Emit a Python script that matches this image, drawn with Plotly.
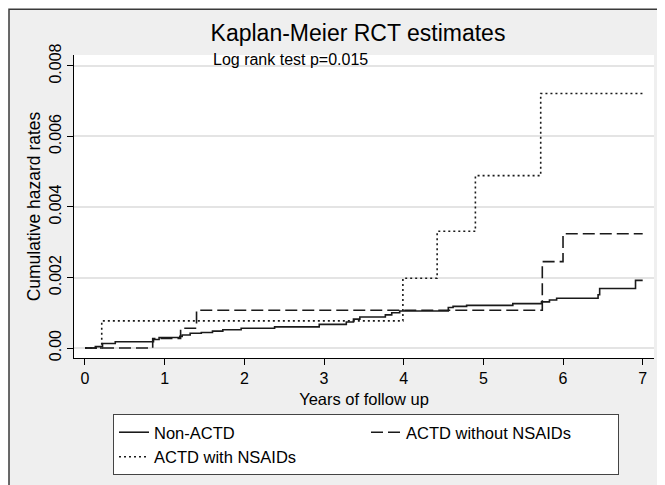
import plotly.graph_objects as go

# ---- data ----
non_actd_t = [0, 0.13, 0.22, 0.38, 0.86, 0.93, 1.19, 1.22, 1.32, 1.46, 1.60, 1.73, 1.96, 2.38,
              2.94, 3.28, 3.37, 3.45, 3.77, 3.85, 3.95, 4.56, 4.62, 4.79, 5.37, 5.73, 5.83,
              5.92, 6.44, 6.46, 6.91, 7.0]
non_actd_v = [0, 0.00004, 0.00013, 0.00018, 0.00024, 0.00030, 0.00033, 0.00037, 0.00042,
              0.00044, 0.00048, 0.00052, 0.00056, 0.00060, 0.00067, 0.00074, 0.00082, 0.00088,
              0.00094, 0.00100, 0.00105, 0.00115, 0.00118, 0.00121, 0.00126, 0.00131, 0.00136,
              0.00141, 0.00151, 0.00169, 0.00192, 0.00192]

no_nsaid_t = [0, 0.85, 1.20, 1.40, 5.74, 6.00, 7.0]
no_nsaid_v = [0, 0.00027, 0.00056, 0.00107, 0.00245, 0.00324, 0.00324]

nsaid_t = [0, 0.21, 3.99, 4.42, 4.90, 5.72, 7.0]
nsaid_v = [0, 0.00077, 0.00198, 0.00331, 0.00489, 0.00722, 0.00722]

x_ticks = [0, 1, 2, 3, 4, 5, 6, 7]
y_ticks = [0, 0.002, 0.004, 0.006, 0.008]
y_ticktext = ["0.00", "0.002", "0.004", "0.006", "0.008"]

FONT = "Liberation Sans, Arial, sans-serif"
INK = "#1a1a1a"

fig = go.Figure()
fig.add_trace(go.Scatter(x=non_actd_t, y=non_actd_v, mode="lines", line_shape="hv",
                         name="Non-ACTD", line=dict(color=INK, width=1.6, dash="solid")))
fig.add_trace(go.Scatter(x=no_nsaid_t, y=no_nsaid_v, mode="lines", line_shape="hv",
                         name="ACTD without NSAIDs",
                         line=dict(color=INK, width=1.6, dash="12px,5px")))
fig.add_trace(go.Scatter(x=nsaid_t, y=nsaid_v, mode="lines", line_shape="hv",
                         name="ACTD with NSAIDs",
                         line=dict(color=INK, width=1.6, dash="2px,3px")))

# the page body adds an 8px margin, so the figure is 8px smaller and shifted
OFF = 8
W, H = 665 - OFF, 485 - OFF
L, R, T, B = 74 - OFF, 11, 55 - OFF, 126
pw, ph = W - L - R, H - T - B


def px(p):  # screen pixel x -> paper fraction
    return (p - OFF - L) / pw


def py(p):  # screen pixel y -> paper fraction
    return (H - B - (p - OFF)) / ph


fig.update_layout(
    width=W, height=H,
    margin=dict(l=L, r=R, t=T, b=B, pad=0),
    paper_bgcolor="white",
    plot_bgcolor="white",
    font=dict(family=FONT, size=15, color="black"),
    title=dict(text="Kaplan-Meier RCT estimates", xref="container", x=(358 - OFF) / W,
               xanchor="center", yref="container", y=1 - (33 - OFF) / H, yanchor="middle",
               font=dict(size=23, color="black")),
    showlegend=True,
    legend=dict(orientation="h", x=px(113), xanchor="left", y=py(414), yanchor="top",
                bgcolor="white", bordercolor="#444444", borderwidth=1,
                font=dict(size=16.5, color="black"), entrywidth=207, entrywidthmode="pixels",
                tracegroupgap=0, traceorder="normal"),
    shapes=[
        dict(type="rect", xref="paper", yref="paper", x0=px(9), x1=px(720), y0=py(540), y1=py(9),
             fillcolor="#efefef", line=dict(color="#3a3a3a", width=1.5), layer="below"),
        dict(type="rect", xref="paper", yref="paper", x0=0, x1=1, y0=0, y1=1,
             fillcolor="white", line=dict(width=0), layer="below"),
    ],
    annotations=[
        dict(text="Log rank test p=0.015", xref="paper", yref="paper", x=px(211), y=py(60),
             xanchor="left", yanchor="middle", showarrow=False,
             font=dict(size=16, color="black")),
    ],
)

fig.update_xaxes(
    range=[-0.138, 7.142], tickvals=x_ticks, ticktext=[str(v) for v in x_ticks],
    showgrid=False, zeroline=False, showline=True, linecolor="black", linewidth=1.2,
    ticks="outside", ticklen=6, tickcolor="black", tickwidth=1.2,
    tickfont=dict(size=16, color="black"),
    title=dict(text="Years of follow up", font=dict(size=16.5, color="black"), standoff=7),
)
fig.update_yaxes(
    range=[-0.000283, 0.008311], tickvals=y_ticks, ticktext=y_ticktext, tickangle=-90,
    showgrid=True, gridcolor="#e4e4e4", gridwidth=1.5, zeroline=False,
    showline=True, linecolor="black", linewidth=1.2,
    ticks="outside", ticklen=6, tickcolor="black", tickwidth=1.2,
    tickfont=dict(size=16, color="black"),
    title=dict(text="Cumulative hazard rates", font=dict(size=17.5, color="black"), standoff=1),
)

fig.write_html("out.html")
